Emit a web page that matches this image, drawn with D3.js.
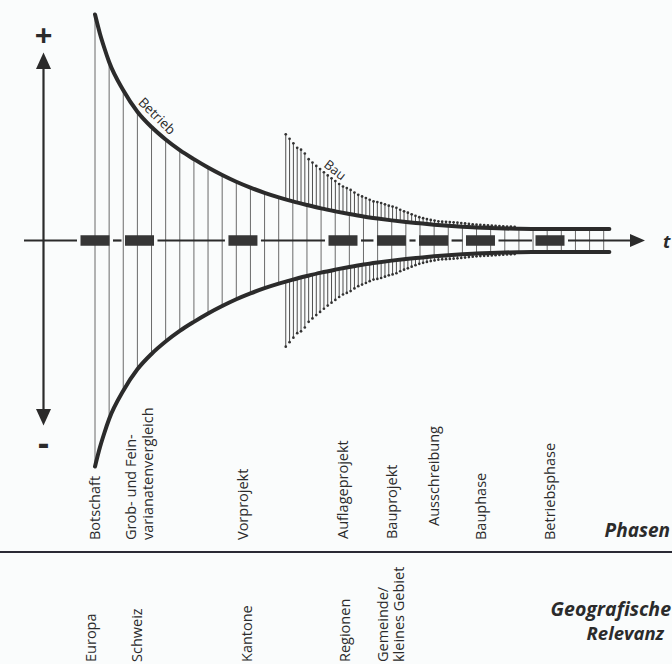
<!DOCTYPE html>
<html>
<head>
<meta charset="utf-8">
<script src="https://cdn.jsdelivr.net/npm/d3@7"></script>
<style>
  html, body { margin: 0; padding: 0; background: #fafcfc; }
  svg { display: block; }
  text { font-family: "Open Sans", "Noto Sans", sans-serif; fill: #2b2b2b; }
</style>
</head>
<body>
<svg id="chart" width="672" height="664"></svg>
<script>
// ---------- data ----------
// "Betrieb" envelope (time t, amplitude in % of max)
const betriebT = [0, 0.35, 0.65, 1, 2, 3, 4, 5, 6, 7, 8, 9, 10, 11, 12, 13, 14, 15, 16, 17, 18, 19, 20,
  21, 22, 23, 24, 25, 26, 27, 28, 29, 30, 31, 32, 33, 34, 35, 36, 36.4];
const betriebV = [100, 91.5, 85.4, 79, 66.5, 57, 50.2, 44.7, 40, 36, 32.3, 29, 26, 23.4, 21.1,
  19.1, 17.3, 15.7, 14.2, 12.9, 11.7, 10.6, 9.7, 8.9, 8.2, 7.6, 7.0, 6.5, 6.1, 5.8, 5.5, 5.3, 5.15,
  5.1, 5.1, 5.1, 5.1, 5.1, 5.1, 5.1];

// "Bau" envelope
const bauT = [13.5, 13.77, 14.04, 14.31, 14.58, 14.85, 15.12, 15.39, 15.66, 15.93, 16.2, 16.47, 16.74,
  17.01, 17.28, 17.55, 17.82, 18.09, 18.36, 18.63, 18.9, 19.17, 19.44, 19.71, 19.98, 20.25, 20.52,
  20.79, 21.06, 21.33, 21.6, 21.87, 22.14, 22.41, 22.68, 22.95, 23.22, 23.49, 23.76, 24.03, 24.3,
  24.57, 24.84, 25.11, 25.38, 25.65, 25.92, 26.19, 26.46, 26.73, 27.0, 27.27, 27.54, 27.81, 28.08,
  28.35, 28.62, 28.89, 29.16, 29.43, 29.7];
const bauV = [47, 45, 43, 41, 40.2, 38.5, 36, 34.5, 33, 31.6, 30.2, 28.8, 27.5, 26.3, 25, 23.9, 23.2,
  22.4, 21.2, 20.2, 19.5, 18.8, 18, 17.3, 17, 16.6, 16, 15.4, 15, 14.5, 13.6, 12.9, 12.3, 11.6, 10.9,
  10.3, 9.9, 9.5, 9.1, 8.8, 8.5, 8.35, 8.25, 8.15, 8.05, 7.9, 7.75, 7.55, 7.35, 7.15, 7.0, 6.9, 6.8,
  6.7, 6.6, 6.5, 6.4, 6.3, 6.2, 6.1, 6.0];

// Phases (top labels) and their time positions
const phaseLabels = [["Botschaft"], ["Grob- und Fein-", "varianatenvergleich"], ["Vorprojekt"],
  ["Auflageprojekt"], ["Bauprojekt"], ["Ausschreibung"], ["Bauphase"], ["Betriebsphase"]];
const phaseT = [0, 3.15, 10.47, 17.55, 20.98, 23.96, 27.28, 32.2];
const phaseLabelBottom = [540, 540, 540, 539, 539, 526, 540, 540];

// Geographic relevance (bottom labels)
const geoLabels = [["Europa"], ["Schweiz"], ["Kantone"], ["Regionen"], ["Gemeinde/", "kleines Gebiet"]];
const geoT = [-0.28, 2.97, 10.76, 17.69, 20.9];

const axisLabels = { time: "t", plus: "+", minus: "-", betrieb: "Betrieb", bau: "Bau",
  phasen: "Phasen", geo1: "Geografische", geo2: "Relevanz" };

// ---------- layout ----------
const W = 672, H = 664;
const ink = "#2b2b2b";
const svg = d3.select("#chart");
svg.append("rect").attr("width", W).attr("height", H).attr("fill", "#fafcfc");

const x = d3.scaleLinear().domain([0, 36]).range([95, 603.7]);
const y = d3.scaleLinear().domain([-100, 100]).range([466.5, 14.5]);
const y0 = y(0);

const betrieb = betriebT.map((t, i) => ({ t, v: betriebV[i] }));
const bau = bauT.map((t, i) => ({ t, v: bauV[i] }));

// Bau lines (full span; the Betrieb band will mask the inner part)
const gBau = svg.append("g");
gBau.selectAll("line").data(bau).join("line")
  .attr("x1", d => x(d.t)).attr("x2", d => x(d.t))
  .attr("y1", d => y(d.v)).attr("y2", d => y(-d.v))
  .attr("stroke", "#444").attr("stroke-width", 0.95);
gBau.selectAll("circle.top").data(bau).join("circle").attr("class", "top")
  .attr("cx", d => x(d.t)).attr("cy", d => y(d.v)).attr("r", 1.35).attr("fill", "#333");
gBau.selectAll("circle.bot").data(bau).join("circle").attr("class", "bot")
  .attr("cx", d => x(d.t)).attr("cy", d => y(-d.v)).attr("r", 1.35).attr("fill", "#333");

// Betrieb band mask
svg.append("path").datum(betrieb)
  .attr("d", d3.area().curve(d3.curveMonotoneX).x(d => x(d.t)).y0(d => y(-d.v)).y1(d => y(d.v)))
  .attr("fill", "#fafcfc");

// regular hatch lines at integer t
const hatch = betrieb.filter(d => Number.isInteger(d.t));
svg.append("g").selectAll("line").data(hatch).join("line")
  .attr("x1", d => x(d.t)).attr("x2", d => x(d.t))
  .attr("y1", d => y(d.v)).attr("y2", d => y(-d.v))
  .attr("stroke", "#5a5a5a").attr("stroke-width", 0.9);

// horizontal axis with gaps around the phase boxes
const boxW = 29, boxH = 10.5, gap = 3.5;
const axisStart = 24, axisEnd = 632;
const centers = phaseT.map(t => x(t)).sort((a, b) => a - b);
let segs = [], cur = axisStart;
centers.forEach(c => { segs.push([cur, c - boxW / 2 - gap]); cur = c + boxW / 2 + gap; });
segs.push([cur, axisEnd]);
svg.append("g").selectAll("line").data(segs).join("line")
  .attr("x1", d => d[0]).attr("x2", d => d[1]).attr("y1", y0).attr("y2", y0)
  .attr("stroke", ink).attr("stroke-width", 2.2);
svg.append("path")
  .attr("d", `M${axisEnd - 2},${y0 - 6.5} L645,${y0} L${axisEnd - 2},${y0 + 6.5} Z`)
  .attr("fill", ink);

// phase boxes
svg.append("g").selectAll("rect").data(phaseT).join("rect")
  .attr("x", t => x(t) - boxW / 2).attr("y", y0 - boxH / 2)
  .attr("width", boxW).attr("height", boxH).attr("fill", "#363636");

// Betrieb curves
const lineUp = d3.line().curve(d3.curveMonotoneX).x(d => x(d.t)).y(d => y(d.v));
const lineDn = d3.line().curve(d3.curveMonotoneX).x(d => x(d.t)).y(d => y(-d.v));
svg.append("path").datum(betrieb).attr("d", lineUp).attr("fill", "none")
  .attr("stroke", ink).attr("stroke-width", 4).attr("stroke-linecap", "round");
svg.append("path").datum(betrieb).attr("d", lineDn).attr("fill", "none")
  .attr("stroke", ink).attr("stroke-width", 4).attr("stroke-linecap", "round");

// vertical axis
const vx = 43.5;
svg.append("line").attr("x1", vx).attr("x2", vx).attr("y1", 66).attr("y2", 412)
  .attr("stroke", ink).attr("stroke-width", 2.2);
svg.append("path").attr("d", `M${vx - 7.5},69 L${vx},52.5 L${vx + 7.5},69 Z`).attr("fill", ink);
svg.append("path").attr("d", `M${vx - 7.5},409 L${vx},425.5 L${vx + 7.5},409 Z`).attr("fill", ink);
svg.append("text").attr("x", vx).attr("y", 46).attr("text-anchor", "middle")
  .attr("font-size", 31).attr("font-weight", 700).text(axisLabels.plus);
svg.append("text").attr("x", vx).attr("y", 455).attr("text-anchor", "middle")
  .attr("font-size", 34).attr("font-weight", 700).text(axisLabels.minus);

// t label
svg.append("text").attr("x", 663).attr("y", 247.5).attr("font-size", 18)
  .attr("font-weight", 700).attr("font-style", "italic").text(axisLabels.time);

// curve labels
svg.append("text").attr("transform", "translate(157,116) rotate(45)")
  .attr("text-anchor", "middle").attr("dy", "0.35em").attr("font-size", 13.5).text(axisLabels.betrieb);
svg.append("text").attr("transform", "translate(335,170) rotate(38)")
  .attr("text-anchor", "middle").attr("dy", "0.35em").attr("font-size", 13).text(axisLabels.bau);

// phase labels (rotated)
const fs = 14.5;
phaseLabels.forEach((lines, i) => {
  const cx = x(phaseT[i]);
  lines.forEach((s, j) => {
    const off = (j - (lines.length - 1) / 2) * 17;
    svg.append("text")
      .attr("transform", `translate(${cx + off},${phaseLabelBottom[i]}) rotate(-90)`)
      .attr("dy", "0.36em").attr("font-size", fs).text(s);
  });
});

// separator
svg.append("line").attr("x1", 0).attr("x2", W).attr("y1", 552).attr("y2", 552)
  .attr("stroke", "#2a2a35").attr("stroke-width", 2);

// geo labels (rotated)
geoLabels.forEach((lines, i) => {
  const cx = x(geoT[i]);
  lines.forEach((s, j) => {
    const off = (j - (lines.length - 1) / 2) * 16;
    svg.append("text")
      .attr("transform", `translate(${cx + off},662) rotate(-90)`)
      .attr("dy", "0.36em").attr("font-size", fs).text(s);
  });
});

// section titles
svg.append("text").attr("x", 670).attr("y", 537).attr("text-anchor", "end")
  .attr("font-size", 19).attr("font-weight", 700).attr("font-style", "italic").text(axisLabels.phasen);
svg.append("text").attr("x", 671).attr("y", 616).attr("text-anchor", "end")
  .attr("font-size", 19.5).attr("font-weight", 700).attr("font-style", "italic").text(axisLabels.geo1);
svg.append("text").attr("x", 664).attr("y", 640).attr("text-anchor", "end")
  .attr("font-size", 18.5).attr("font-weight", 700).attr("font-style", "italic").text(axisLabels.geo2);
</script>
</body>
</html>
